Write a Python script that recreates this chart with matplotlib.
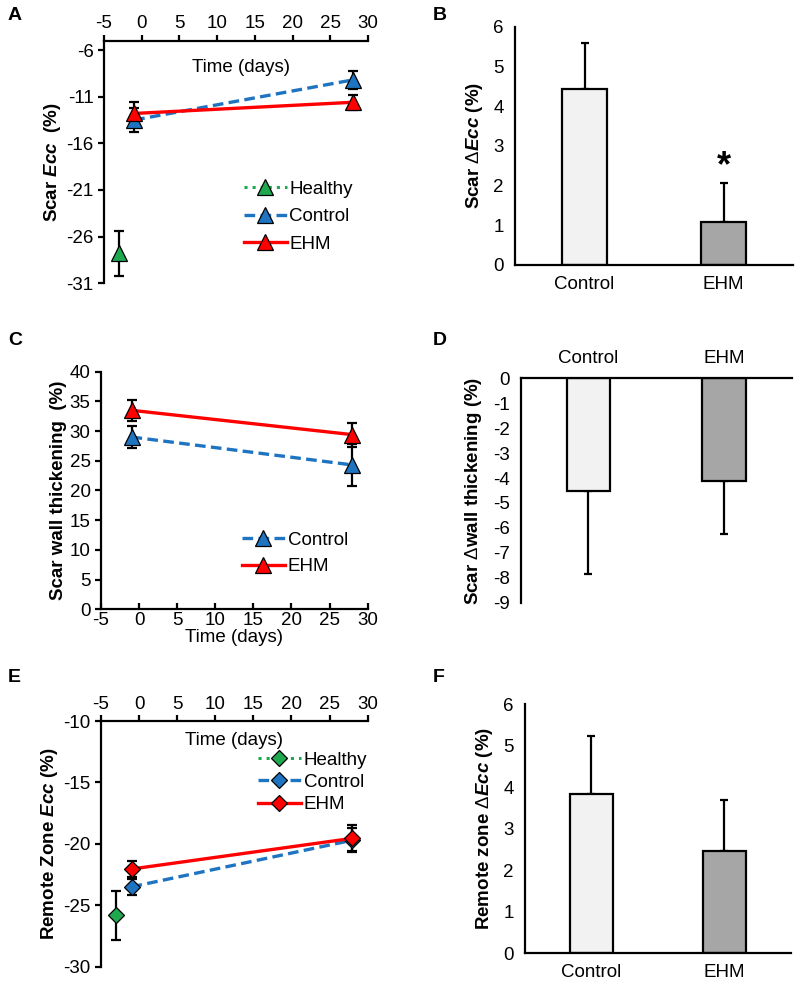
import numpy as np
import matplotlib
matplotlib.use("Agg")
import matplotlib.pyplot as plt

plt.rcParams['font.family'] = ['Liberation Sans', 'DejaVu Sans']
plt.rcParams['font.size'] = 13.5
plt.rcParams['axes.unicode_minus'] = False
plt.rcParams['mathtext.fontset'] = 'custom'
plt.rcParams['mathtext.it'] = 'Liberation Sans:italic:bold'
plt.rcParams['mathtext.rm'] = 'Liberation Sans'

# time points (days)
days = [-1, 28]
healthy_day = [-3]

# A: scar Ecc
a_healthy = [-27.8]; a_healthy_err = [2.4]
a_control = [-13.5, -9.2]; a_control_err = [1.3, 1.0]
a_ehm = [-12.8, -11.6]; a_ehm_err = [1.2, 0.8]

# C: scar wall thickening
c_control = [29.0, 24.3]; c_control_err = [1.8, 3.5]
c_ehm = [33.5, 29.4]; c_ehm_err = [1.8, 2.0]

# E: remote zone Ecc
e_healthy = [-25.8]; e_healthy_err = [2.0]
e_control = [-23.5, -19.7]; e_control_err = [0.65, 1.0]
e_ehm = [-22.05, -19.55]; e_ehm_err = [0.65, 1.05]

# bar panels
groups = ['Control', 'EHM']
b_vals = [4.42, 1.07]; b_err = [1.18, 1.0]
d_vals = [-4.53, -4.11]; d_err = [3.3, 2.14]
f_vals = [3.84, 2.47]; f_err = [1.4, 1.22]

green = '#1fa84f'
blue = '#1f74c2'
red = '#ff0000'
bar_colors = ['#f2f2f2', '#a6a6a6']

fig = plt.figure(figsize=(8, 9.88), dpi=100)


def line_panel(ax, marker, msize, series, healthy=None):
    handles = []
    if healthy is not None:
        hx, hy, he = healthy
        ax.errorbar(hx, hy, yerr=he, fmt='none', ecolor='black', elinewidth=1.6,
                    capsize=3.5, capthick=1.6, zorder=2)
        h, = ax.plot(hx, hy, linestyle=':', color=green, lw=2.2, marker=marker,
                     markersize=msize, markerfacecolor=green, markeredgecolor='black',
                     markeredgewidth=0.9, zorder=3, label='Healthy')
        handles.append(h)
    for y, err, color, ls, lab in series:
        ax.errorbar(days, y, yerr=err, fmt='none', ecolor='black', elinewidth=1.6,
                    capsize=3.5, capthick=1.6, zorder=2)
        h, = ax.plot(days, y, linestyle=ls, color=color, lw=2.4, marker=marker,
                     markersize=msize, markerfacecolor=color, markeredgecolor='black',
                     markeredgewidth=0.9, zorder=3, label=lab)
        handles.append(h)
    ax.set_xlim(-5, 30)
    ax.set_xticks(np.arange(-5, 31, 5))
    for s in ['left', 'top', 'bottom', 'right']:
        ax.spines[s].set_linewidth(1.6)
    ax.tick_params(axis='y', direction='out', length=4, width=1.6)
    return handles


dash = (0, (3.2, 1.6))

# ---- A ----
axA = fig.add_axes([0.13, 0.7133, 0.33, 0.2455])
hA = line_panel(axA, '^', 11, [(a_control, a_control_err, blue, dash, 'Control'),
                               (a_ehm, a_ehm_err, red, '-', 'EHM')],
                (healthy_day, a_healthy, a_healthy_err))
axA.set_ylim(-31, -5)
axA.set_yticks(np.arange(-31, -5, 5))
axA.xaxis.tick_top()
axA.tick_params(axis='x', direction='out', length=4, width=1.6, pad=2)
axA.spines['right'].set_visible(False)
axA.spines['bottom'].set_visible(False)
axA.text(0.52, 0.89, 'Time (days)', transform=axA.transAxes, ha='center', va='center')
axA.set_ylabel('Scar $\\mathit{Ecc}$  (%)', fontweight='bold', labelpad=2)
axA.legend(handles=hA, loc='center left', bbox_to_anchor=(0.5, 0.275), frameon=False,
           handlelength=2.3, handletextpad=0.15, labelspacing=0.55, borderaxespad=0)

# ---- C ----
axC = fig.add_axes([0.1263, 0.3833, 0.3333, 0.2405])
hC = line_panel(axC, '^', 11, [(c_control, c_control_err, blue, dash, 'Control'),
                               (c_ehm, c_ehm_err, red, '-', 'EHM')])
axC.set_ylim(0, 40)
axC.set_yticks(np.arange(0, 41, 5))
axC.tick_params(axis='x', direction='in', length=4, width=1.6, pad=2)
axC.spines['right'].set_visible(False)
axC.spines['top'].set_visible(False)
axC.set_xlabel('Time (days)', labelpad=0)
axC.set_ylabel('Scar wall thickening  (%)', fontweight='bold', labelpad=2)
axC.legend(handles=hC, loc='center left', bbox_to_anchor=(0.5, 0.235), frameon=False,
           handlelength=2.3, handletextpad=0.15, labelspacing=0.5, borderaxespad=0)

# ---- E ----
axE = fig.add_axes([0.1263, 0.0216, 0.3333, 0.2486])
hE = line_panel(axE, 'D', 8.5, [(e_control, e_control_err, blue, dash, 'Control'),
                                (e_ehm, e_ehm_err, red, '-', 'EHM')],
                (healthy_day, e_healthy, e_healthy_err))
axE.set_ylim(-30, -10)
axE.set_yticks(np.arange(-30, -9, 5))
axE.xaxis.tick_top()
axE.tick_params(axis='x', direction='out', length=4, width=1.6, pad=2)
axE.spines['right'].set_visible(False)
axE.spines['bottom'].set_visible(False)
axE.text(0.5, 0.92, 'Time (days)', transform=axE.transAxes, ha='center', va='center')
axE.set_ylabel('Remote Zone $\\mathit{Ecc}$ (%)', fontweight='bold', labelpad=2)
axE.legend(handles=hE, loc='center left', bbox_to_anchor=(0.56, 0.75), frameon=False,
           handlelength=2.3, handletextpad=0.15, labelspacing=0.28, borderaxespad=0)


def bar_panel(ax, vals, err, lower=False):
    x = np.arange(len(groups))
    if lower:
        yerr = [err, [0] * len(err)]
    else:
        yerr = [[0] * len(err), err]
    ax.bar(x, vals, width=0.32, color=bar_colors, edgecolor='black', linewidth=1.6,
           zorder=2)
    ax.errorbar(x, vals, yerr=yerr, fmt='none', ecolor='black', elinewidth=1.6,
                capsize=3, capthick=1.6, zorder=1)
    ax.set_xlim(-0.5, 1.5)
    ax.set_xticks(x)
    ax.set_xticklabels(groups)
    ax.spines['right'].set_visible(False)
    ax.spines['left'].set_linewidth(1.6)
    ax.spines['bottom'].set_linewidth(1.6)
    ax.spines['top'].set_linewidth(1.6)
    ax.tick_params(length=0, pad=8)


# ---- B ----
axB = fig.add_axes([0.6438, 0.7318, 0.3475, 0.2412])
bar_panel(axB, b_vals, b_err)
axB.set_ylim(0, 6)
axB.spines['top'].set_visible(False)
axB.set_ylabel('Scar $\\Delta\\mathit{Ecc}$ (%)', fontweight='bold', labelpad=6)
axB.text(1, b_vals[1] + b_err[1] + 0.4, '*', ha='center', va='center',
         fontsize=26, fontweight='bold')

# ---- D ----
axD = fig.add_axes([0.6509, 0.39, 0.3387, 0.2271])
bar_panel(axD, d_vals, d_err, lower=True)
axD.set_ylim(-9, 0)
axD.set_yticks(np.arange(-9, 1, 1))
axD.spines['bottom'].set_visible(False)
axD.xaxis.tick_top()
axD.set_ylabel('Scar $\\Delta$wall thickening (%)', fontweight='bold', labelpad=6)

# ---- F ----
axF = fig.add_axes([0.6563, 0.0351, 0.3321, 0.2520])
bar_panel(axF, f_vals, f_err)
axF.set_ylim(0, 6)
axF.spines['top'].set_visible(False)
axF.set_ylabel('Remote zone $\\Delta\\mathit{Ecc}$ (%)', fontweight='bold', labelpad=6)

# panel letters
for lab, px, py in [('A', 8, 15), ('B', 433, 15), ('C', 8, 340),
                    ('D', 433, 340), ('E', 8, 677), ('F', 433, 677)]:
    fig.text(px / 800, 1 - py / 988, lab, fontsize=14, fontweight='bold',
             ha='left', va='center')

fig.savefig('out.png', dpi=100)
